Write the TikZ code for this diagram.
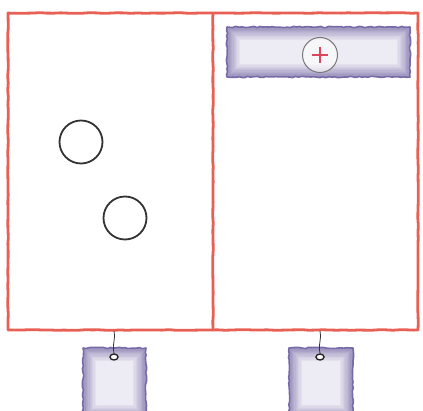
\documentclass[tikz,border=0pt]{standalone}
\usetikzlibrary{decorations.pathmorphing,shapes.geometric}
\definecolor{frame}{RGB}{232,96,84}
\definecolor{plateedge}{RGB}{95,80,150}
\definecolor{ringgray}{RGB}{120,120,120}
\definecolor{plusred}{RGB}{220,70,90}
\tikzset{
  wall/.style={draw=frame, line width=2.8pt, line join=round,
    decorate, decoration={random steps, segment length=7pt, amplitude=0.35pt}},
  plateout/.style={draw=plateedge!85, line width=1.6pt, line join=round,
    decorate, decoration={random steps, segment length=3pt, amplitude=0.7pt}},
  ring/.style={draw=black!80, line width=1.8pt},
  string/.style={draw=black!80, line width=0.8pt},
  hole/.style={draw=black!85, fill=white, line width=1.4pt},
}
% softplate: x1,y1,x2,y2
\newcommand{\softplate}[4]{%
  \foreach \i in {0,...,11}{
    \pgfmathsetmacro{\pc}{max(11,62-5*\i)}
    \fill[plateedge!\pc!white] ({#1+1.3*\i},{#2+1.3*\i}) rectangle ({#3-1.3*\i},{#4-1.3*\i});
  }
  \draw[plateout] (#1,#2) rectangle (#3,#4);
}
\begin{document}
\begin{tikzpicture}[x=1pt,y=-1pt]
\useasboundingbox (0,0) rectangle (423,411);
% frame
\draw[wall] (8,13) rectangle (418,330);
\draw[wall] (213,13) -- (213,330);
% top plate
\softplate{227}{27}{410}{77}
\node[circle, draw=ringgray, line width=1pt, minimum size=35pt, inner sep=0pt, fill=white, fill opacity=0.6] (plus) at (320,55) {};
\draw[plusred, line width=2pt] (312,55) -- (328,55) (320,47) -- (320,63);
% circles
\node[circle, ring, minimum size=43pt, inner sep=0pt] (c1) at (81,142) {};
\node[circle, ring, minimum size=43pt, inner sep=0pt] (c2) at (125,218) {};
% tags
\softplate{83}{348}{146}{418}
\softplate{289}{348}{353}{418}
% strings and holes
\coordinate (s1) at (114,331);
\coordinate (s2) at (320,331);
\node[ellipse, hole, minimum width=8pt, minimum height=6pt, inner sep=0pt] (h1) at (114,357) {};
\node[ellipse, hole, minimum width=8pt, minimum height=6pt, inner sep=0pt] (h2) at (320,357) {};
\draw[string] (s1) .. controls (116,338) and (112,344) .. (h1.north);
\draw[string] (s2) .. controls (322,338) and (318,344) .. (h2.north);
\end{tikzpicture}
\end{document}
